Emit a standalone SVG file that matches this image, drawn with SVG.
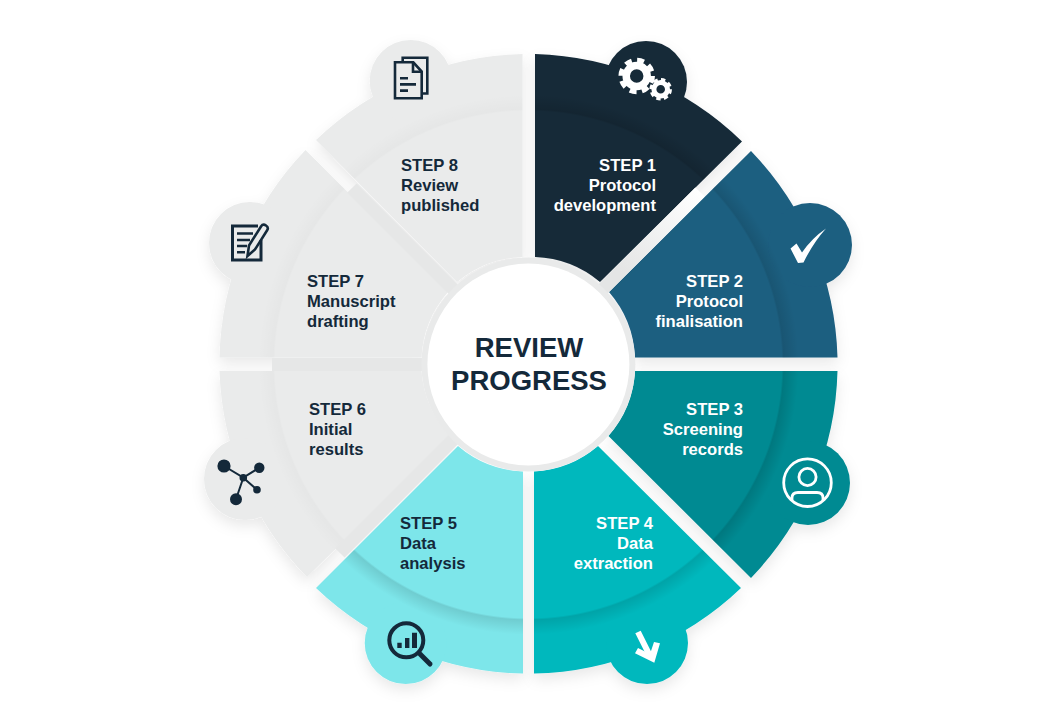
<svg xmlns="http://www.w3.org/2000/svg" width="1057" height="728" viewBox="0 0 1057 728">
<style>
text{font-family:"Liberation Sans",Arial,sans-serif;font-weight:700;font-size:16.6px}
.l{fill:#fff;text-anchor:end}
.d{fill:#14293a}
.c{font-size:27.5px;fill:#14293a;text-anchor:middle}
.ic{fill:none;stroke:#14293a;stroke-width:2.6}
</style>
<defs>
<filter id="s" x="-20%" y="-20%" width="140%" height="140%"><feDropShadow dx="0" dy="6" stdDeviation="7" flood-color="#000" flood-opacity=".09"/></filter>
<radialGradient id="band" gradientUnits="userSpaceOnUse" cx="528.4" cy="364.5" r="280">
<stop offset=".905" stop-color="#000" stop-opacity="0"/><stop offset=".912" stop-color="#000" stop-opacity="1"/><stop offset=".965" stop-color="#000" stop-opacity="0"/>
</radialGradient>
<linearGradient id="gr" gradientUnits="userSpaceOnUse" x1="620" y1="272" x2="700" y2="192"><stop offset="0" stop-color="#e4e5e5"/><stop offset="1" stop-color="#fff"/></linearGradient>
<path id="w1" d="M535,54A309.5,309.5 0 0 1 742,141.5L600,282A107,107 0 0 0 535,257Z"/>
<path id="w2" d="M751,151A309.5,309.5 0 0 1 837.5,357.5L635,357.5A107,107 0 0 0 609,292Z"/>
<path id="w3" d="M837.5,371A309.5,309.5 0 0 1 751,578L608.5,436A107,107 0 0 0 635,371Z"/>
<path id="w4" d="M741,588A309.5,309.5 0 0 1 534,673.5L534,471.5A107,107 0 0 0 598,446Z"/>
<path id="w5" d="M523,673.5A309.5,309.5 0 0 1 316,588L458,446A107,107 0 0 0 523,471.5Z"/>
<path id="w6" d="M307,577A309.5,309.5 0 0 1 219.5,371L421.5,371A107,107 0 0 0 450,436Z"/>
<path id="w7" d="M219.5,357.5A309.5,309.5 0 0 1 305.5,150L448,292A107,107 0 0 0 421.5,357.5Z"/>
<path id="w8" d="M316,140A309.5,309.5 0 0 1 522.5,54L522.5,257A107,107 0 0 0 457,282Z"/>
<clipPath id="c1"><use href="#w1"/></clipPath><clipPath id="c2"><use href="#w2"/></clipPath>
<clipPath id="c3"><use href="#w3"/></clipPath><clipPath id="c4"><use href="#w4"/></clipPath>
<clipPath id="c5"><use href="#w5"/></clipPath><clipPath id="c6"><use href="#w6"/></clipPath>
<clipPath id="c7"><use href="#w7"/></clipPath><clipPath id="c8"><use href="#w8"/></clipPath>
</defs>
<rect width="1057" height="728" fill="#fff"/>

<g id="step-8">
<g filter="url(#s)" fill="#eaebeb"><use href="#w8"/><circle cx="410.7" cy="81" r="41"/></g>
<circle cx="528.4" cy="364.5" r="280" fill="url(#band)" fill-opacity=".02" clip-path="url(#c8)"/>
<path class="ic" d="M402.7,62V57.7H427.3V93.5H421.7"/>
<path class="ic" fill="#eaebeb" d="M395,62.3H413.3L421.7,71.5V98.3H395Z"/>
<path class="ic" d="M413,62.3V71.7H421.7M400,78.3H408M400,84.4H416M400,90.6H408"/>
<text class="d" x="401" y="171">STEP 8</text><text class="d" x="401" y="191">Review</text><text class="d" x="401" y="211">published</text>
</g>
<g id="step-7">
<g filter="url(#s)" fill="#eaebeb"><use href="#w7"/><circle cx="250" cy="243" r="41"/></g>
<circle cx="528.4" cy="364.5" r="280" fill="url(#band)" fill-opacity=".02" clip-path="url(#c7)"/>
<path class="ic" style="stroke-width:3" d="M258,226H232.5V260H261V240"/>
<path class="ic" d="M237,233.5H253M237,240H250M237,246H247M237,252.3H245"/>
<path class="ic" fill="#eaebeb" d="M247.5,256L249,245.5L261,226.5Q263,223.5 266,225.5Q269,227.5 267,230.5L255,249.5Z"/>
<text class="d" x="307" y="287">STEP 7</text><text class="d" x="307" y="307">Manuscript</text><text class="d" x="307" y="327">drafting</text>
</g>
<g id="step-6">
<g filter="url(#s)" fill="#eaebeb"><use href="#w6"/><circle cx="245" cy="479" r="41"/></g>
<circle cx="528.4" cy="364.5" r="280" fill="url(#band)" fill-opacity=".02" clip-path="url(#c6)"/>
<g fill="#14293a" stroke="#14293a" stroke-width="2"><path fill="none" d="M224,466L243.3,477.7L259.3,467.7M243.3,477.7L257,489.7M243.3,477.7L236,499.3"/><circle cx="224" cy="466" r="5.6"/><circle cx="259.3" cy="467.7" r="4.2"/><circle cx="236" cy="499.3" r="5"/><circle cx="257" cy="489.7" r="2.8"/><circle cx="243.3" cy="477.7" r="2.8"/></g>
<text class="d" x="309" y="415">STEP 6</text><text class="d" x="309" y="435">Initial</text><text class="d" x="309" y="455">results</text>
</g>
<g id="step-5">
<g filter="url(#s)" fill="#7de6ea"><use href="#w5"/><circle cx="405.7" cy="643" r="41"/></g>
<circle cx="528.4" cy="364.5" r="280" fill="url(#band)" fill-opacity=".11" clip-path="url(#c5)"/>
<circle cx="406.3" cy="640.3" r="17" fill="none" stroke="#14293a" stroke-width="4"/>
<path fill="none" stroke="#14293a" stroke-width="5" stroke-linecap="round" d="M420,654L430,664"/>
<path fill="#14293a" d="M397.3,642.7h4.4V648h-4.4zM405,638h4.4V648H405zM412,632.7h5V648h-5z"/>
<text class="d" x="400" y="529">STEP 5</text><text class="d" x="400" y="549">Data</text><text class="d" x="400" y="569">analysis</text>
</g>
<g id="step-4">
<g filter="url(#s)" fill="#00b8bd"><use href="#w4"/><circle cx="647" cy="643" r="41"/></g>
<circle cx="528.4" cy="364.5" r="280" fill="url(#band)" fill-opacity=".11" clip-path="url(#c4)"/>
<path fill="none" stroke="#fff" stroke-width="6" d="M638,632L650,656"/>
<path fill="#fff" d="M635,653.3L654.3,662.7L660,643.3L654,642L650,654L638,648Z"/>
<text class="l" x="653" y="529">STEP 4</text><text class="l" x="653" y="549">Data</text><text class="l" x="653" y="569">extraction</text>
</g>
<g id="step-3">
<g filter="url(#s)" fill="#038a92"><use href="#w3"/><circle cx="808" cy="483" r="42"/></g>
<circle cx="528.4" cy="364.5" r="280" fill="url(#band)" fill-opacity=".13" clip-path="url(#c3)"/>
<g fill="none" stroke="#fff" stroke-width="2.8"><circle cx="807.5" cy="482.7" r="23.8"/><circle cx="807.5" cy="477" r="8.6"/><path d="M792,500V498Q792,492.5 798,492.5H817Q823,492.5 823,498V500"/></g>
<text class="l" x="743" y="415">STEP 3</text><text class="l" x="743" y="435">Screening</text><text class="l" x="743" y="455">records</text>
</g>
<g id="step-2">
<g filter="url(#s)" fill="#1c5e80"><use href="#w2"/><circle cx="810" cy="245" r="42"/></g>
<circle cx="528.4" cy="364.5" r="280" fill="url(#band)" fill-opacity=".1" clip-path="url(#c2)"/>
<path fill="#fff" d="M790.5,248.5L796.5,243.5L802,252.5Q812,238 826,228.5Q813,243 803.5,262.5L798,263Z"/>
<text class="l" x="743" y="287">STEP 2</text><text class="l" x="743" y="307">Protocol</text><text class="l" x="743" y="327">finalisation</text>
</g>
<g id="step-1">
<g filter="url(#s)" fill="#142a38"><use href="#w1"/><circle cx="646" cy="82" r="41"/></g>
<circle cx="528.4" cy="364.5" r="280" fill="url(#band)" fill-opacity=".12" clip-path="url(#c1)"/>
<g fill="none" stroke="#fff"><circle cx="636.7" cy="76" r="10.5" stroke-width="7.5"/><circle cx="636.7" cy="76" r="15.5" stroke-width="5.5" stroke-dasharray="6.8 5.37"/><circle cx="660.7" cy="89.3" r="6.8" stroke-width="5"/><circle cx="660.7" cy="89.3" r="9.5" stroke-width="3.5" stroke-dasharray="4.2 3.26"/></g>
<text class="l" x="656" y="171">STEP 1</text><text class="l" x="656" y="191">Protocol</text><text class="l" x="656" y="211">development</text>
</g>

<g id="connectors" fill="none" stroke-width="13">
<path stroke="#e6e7e7" d="M352,188L460,296M429,364.5H272M458,435L340,553"/>
<path stroke="url(#gr)" d="M600,292L700,192"/>
</g>

<g id="hub">
<circle cx="528.4" cy="364.5" r="107" fill="#e9eaea"/>
<circle cx="528.4" cy="364.5" r="101" fill="#fff"/>
<text class="c" x="529" y="356.5">REVIEW</text><text class="c" x="529" y="390">PROGRESS</text>
</g>
</svg>
